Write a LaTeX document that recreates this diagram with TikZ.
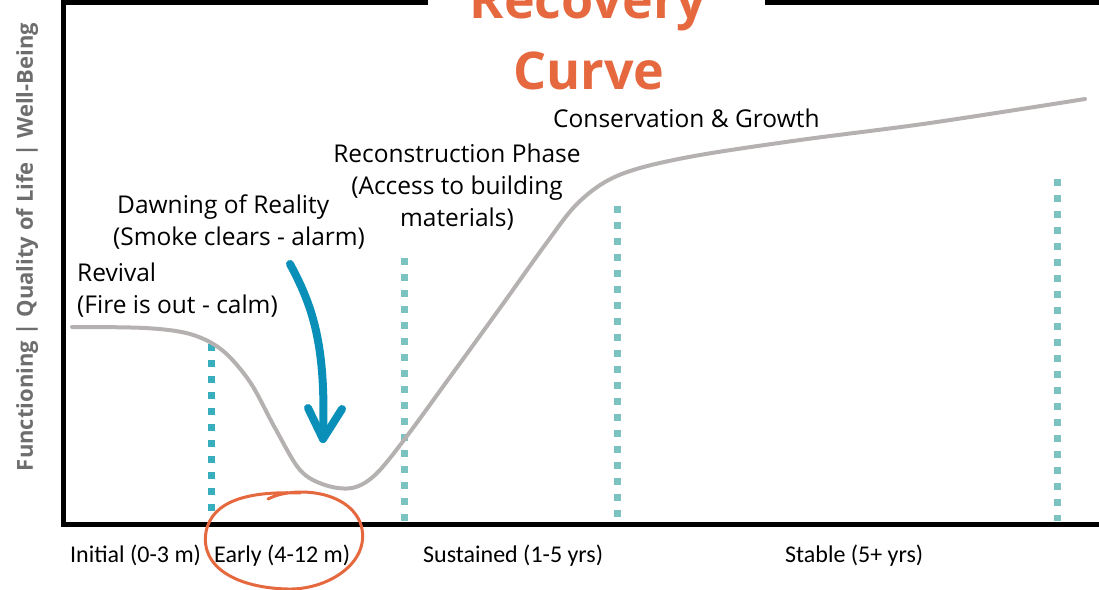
\documentclass[tikz,border=0pt]{standalone}
\usepackage{fontspec}
\setmainfont{Open Sans}
\newfontfamily\periodfont{Carlito}
\usetikzlibrary{positioning,arrows.meta}
\definecolor{flame}{HTML}{E5683F}
\definecolor{curvegray}{HTML}{B5B1B1}
\definecolor{tealdark}{HTML}{38AFBD}
\definecolor{teallight}{HTML}{7AC3C1}
\definecolor{shiftblue}{HTML}{0A90B8}
\definecolor{axisgray}{HTML}{6E6E6E}
\tikzset{
    >=Stealth[round],
    frame/.style = {line width = 5pt},
    trend/.style = {line width = 4pt, curvegray, line cap = round, line join = round},
    marker/.style = {line width = 7pt, dash pattern = on 7pt off 9pt},
    phase/.style = {font = \fontsize{24.5}{32}\selectfont, align = left, inner sep = 0pt},
    period/.style = {font = \periodfont\fontsize{24}{28}\selectfont, inner sep = 0pt, anchor = base west},
    heading/.style = {font = \bfseries\fontsize{52}{71}\selectfont, text = flame, inner sep = 0pt, anchor = base},
    dropline/.style = {line width = 8pt, shiftblue, line cap = round, line join = round},
    ring/.style = {line width = 3pt, flame, line cap = round},
}

\begin{document}
\begin{tikzpicture}[x = 1pt, y = -1pt]
    \useasboundingbox (0,0) rectangle (1099,589);

    % frame
    \draw [frame] (428,2.5) -- (63,2.5) -- (63,524) -- (1099,524);
    \draw [frame] (765,2.5) -- (1099,2.5);

    \node [heading] (title) at (588,18) {Recovery};
    \node [heading] (title2) at (589,89) {Curve};

    \node [rotate = 90, font = \bfseries\fontsize{22}{24}\selectfont, text = axisgray] (yaxis) at (27,247)
        {Functioning | Quality of Life | Well-Being};

    % phase markers
    \draw [marker, tealdark] (211,344) -- (211,513);
    \draw [marker, teallight] (404,258) -- (404,521);
    \draw [marker, teallight] (617,206) -- (617,521);
    \draw [marker, teallight] (1057,179) -- (1057,521);

    % the curve
    \draw [trend] plot [smooth, tension = 0.55] coordinates {
        (72,327) (145,328) (190,334) (222,350) (250,382) (275,428) (300,470)
        (325,485) (352,488) (375,475) (404,440) (450,377) (500,308) (545,245)
        (575,206) (605,182) (640,168) (700,155) (800,140) (930,123) (1085,99)};

    \node [phase, anchor = base west] (revival) at (77,313) {Revival\\(Fire is out - calm)};
    \node [phase, anchor = base west] (dawning) at (113,245) {\hspace{4pt}Dawning of Reality\\(Smoke clears - alarm)};
    \node [phase, align = center, anchor = base] (rebuild) at (457,226)
        {Reconstruction Phase\\(Access to building\\materials)};
    \node [phase, anchor = base west] (growth) at (553,127) {Conservation \& Growth};

    \node [period] (initial) at (70,562) {Initial (0-3 m)};
    \node [period] (early) at (214,562) {Early (4-12 m)};
    \node [period] (sustained) at (423,562) {Sustained (1-5 yrs)};
    \node [period] (stable) at (785,562) {Stable (5+ yrs)};

    % arrow into the dip
    \coordinate (tip) at (323,439);
    \draw [dropline] (290,264) .. controls (315,310) and (326,350) .. (tip);
    \draw [dropline] (308,408) -- (tip) -- (342,409);

    % circle round the early period
    \draw [ring] (268,499) .. controls (290,487) and (345,488) .. (360,522)
        .. controls (374,560) and (330,590) .. (288,589)
        .. controls (238,588) and (200,568) .. (206,532)
        .. controls (212,500) and (250,491) .. (300,493);
\end{tikzpicture}
\end{document}
